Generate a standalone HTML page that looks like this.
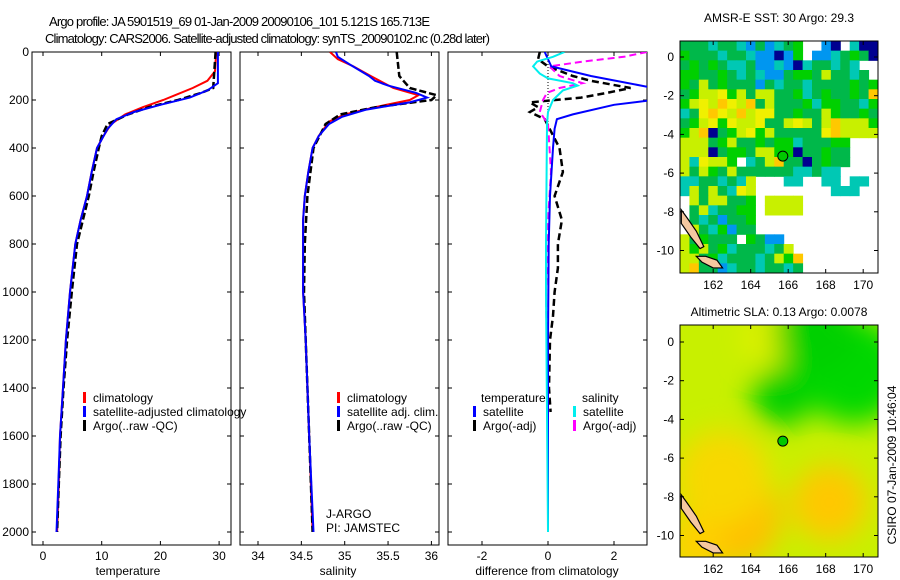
<!DOCTYPE html>
<html><head><meta charset="utf-8"><style>
body{margin:0;background:#fff}
svg{display:block;font-family:"Liberation Sans",sans-serif}
text{font-size:12px;fill:#000}
</style></head><body>
<svg id="c" width="900" height="580" viewBox="0 0 900 580" xmlns="http://www.w3.org/2000/svg">
<text x="49" y="26" font-size="13" textLength="381" style="font-size:13px">Argo profile: JA 5901519_69 01-Jan-2009 20090106_101 5.121S 165.713E</text>
<text x="45" y="43" textLength="445" style="font-size:13px">Climatology: CARS2006. Satellite-adjusted climatology: synTS_20090102.nc (0.28d later)</text>
<g id="p1"></g>
<g id="p2"></g>
<g id="p3"></g>
<g id="m1"></g>
<g id="m2"></g>
<text x="0" y="0" transform="translate(896,465) rotate(-90)" text-anchor="middle">CSIRO 07-Jan-2009 10:46:04</text>
</svg>
<script>
// ---- data ----
const tClimDepth=[0,80,120,150,180,200,230,260,300,350,400,500,600,700,800,1000,1200,1400,1600,1800,2000];
const tClim=[29.5,29.3,28,25.5,22.5,20.5,17,14,11.6,10.3,9.2,8.3,7.5,6.4,5.5,4.6,3.9,3.4,2.9,2.7,2.4];
const tSatDepth=[0,130,160,190,220,250,280,320,400,500,600,700,800,1000,1200,1400,1600,1800,2000];
const tSat=[29.8,29.8,28,25,20,15.5,12.5,11,9.2,8.3,7.5,6.4,5.5,4.6,3.9,3.4,2.9,2.6,2.3];
const tArgoDepth=[0,150,170,200,230,260,300,350,400,500,600,700,800,1000,1200,1400,1600,1800,2000];
const tArgo=[29.4,29,27,23,18,14.5,11,10,9.5,8.6,7.8,6.8,5.8,4.9,4.1,3.5,3.0,2.7,2.4];
const sClimDepth=[0,30,60,100,150,180,200,230,260,290,350,400,500,600,700,1000,1200,1600,2000];
const sClim=[34.83,34.92,35.1,35.3,35.56,35.85,35.75,35.35,35.0,34.82,34.7,34.63,34.58,34.54,34.52,34.52,34.55,34.59,34.63];
const sSatDepth=[0,20,50,100,120,140,170,190,210,240,270,300,350,400,500,600,700,1000,1200,1600,2000];
const sSat=[34.9,34.92,35.05,35.28,35.35,35.5,35.82,35.95,35.75,35.25,34.97,34.82,34.7,34.63,34.58,34.54,34.52,34.52,34.55,34.59,34.64];
const sArgoDepth=[0,100,150,180,200,230,260,300,400,600,800,1000,1200,1600,2000];
const sArgo=[35.6,35.63,35.75,36.06,36.0,35.36,34.95,34.78,34.64,34.57,34.54,34.53,34.55,34.59,34.63];
const dTSatDepth=[0,60,100,150,200,220,260,280,320,400,600,800,1200,2000];
const dTSat=[-0.1,0.1,1.3,3.2,3.2,2.0,0.75,0.27,0.2,0.15,0.06,0.02,0,0];
const dTArgoDepth=[0,30,60,100,120,150,170,190,210,230,250,280,320,400,500,600,700,800,900,1000,1100,1200,1400,1500];
const dTArgo=[-0.25,-0.3,0,0.75,1.3,2.5,1.8,1.0,-0.55,-0.3,-0.55,-0.1,0.05,0.35,0.45,0.2,0.42,0.3,0.3,0.2,0.15,0.06,0.03,0.08];
const dSSatDepth=[0,20,40,60,90,110,130,140,160,200,250,300,800,1000,2000];
const dSSat=[0.5,0.15,-0.33,-0.45,-0.25,0,0.75,0.9,0.45,0.15,0,-0.03,-0.06,-0.06,0];
const dSArgoDepth=[0,20,40,60,100,130,150,170,200,250,300,500,700,1000,1250];
const dSArgo=[3.0,2.3,1.05,0.05,0.35,1.05,0.35,-0.03,-0.15,-0.25,0,0.09,0,-0.06,-0.03];
const depthTicks=[0,200,400,600,800,1000,1200,1400,1600,1800,2000];
const tTicks=[0,10,20,30];
const sTicks=[34,34.5,35,35.5,36];
const dTicks=[-2,0,2];
const lonTicks=[162,164,166,168,170];
const latTicks=[0,-2,-4,-6,-8,-10];
const argoLon=165.713, argoLat=-5.121;
const sstRows=[
"GGGcGGcbGbcGg..bn.cnn",
"gGGGcGGcbbnbg.bbcGgGn",
"GgGgGccGbbcbncGGcGc..",
"ggGGgGcGcbbGggGyGGcG.",
"gGyGgGGGbGcGGcGGGGgGg",
"GgyyYgyGyyGGgcGgGGgGo",
"gyYyoYyoGyGGGgcggGGcg",
"cGYoYyoyYYGGgGGygGGgG",
"GgyYgYyyYGGyYyGyoyyyg",
"gyonGgyYgyGGGGGYoyyyy",
"yyyGgyGGgGggcGGGgg...",
"yyynGggGyyggnGGgGG...",
"ycYyyg.cGyoGGnGgGG...",
"yGygGyGGGGGGccGcc....",
"ccGGcGcy...cc..cc.cc.",
"cyGyGcYy........ccc..",
".yGyyGGg.yyyy........",
".GycGGgg.yyyy........",
".GcGbGGg.............",
".yGcgbGG.............",
"yGgGGG.gGbb..........",
"ygyGgcGGGcGy.........",
"yyGgcGGGcGygo........",
"yoGGbcGGcGGcG.......",
];
const sstColors={g:"#00d000",G:"#00b84a",y:"#c8f000",Y:"#f0f000",o:"#ffc800",c:"#00c8b4",b:"#0096f0",n:"#000090"};
// SLA blobs: lon, lat, radius(deg), color
const slaLon=[163,168.2,165.7,162.5,165,169.5,167.5,161];
const slaLat=[-9,-8.3,-2.8,-7,0.2,-1.5,0.5,-10.5];
const slaR=[2.6,2.0,1.6,2.5,1.4,2.8,2.2,1.5];
const slaCol=["#ffc000","#ffc800","#00d000","#f8d800","#e0f000","#00d800","#00d000","#ffd000"];

const NS="http://www.w3.org/2000/svg";
function mk(parent,tag,attrs,txt){const e=document.createElementNS(NS,tag);for(const k in attrs)e.setAttribute(k,attrs[k]);if(txt!==undefined)e.textContent=txt;parent.appendChild(e);return e;}
const Y0=52, PXD=0.24; // depth to y
const yD=d=>Y0+d*PXD;
const xT=t=>43+5.87*t;
const xS=s=>258+86.7*(s-34);
const xDf=d=>548+33*d;
const FT=52, FB=545;

function frame(g,x0,x1,ticksX,xf,labels,title,tx,cls,leftLabels){
  mk(g,"rect",{x:x0,y:FT,width:x1-x0,height:FB-FT,fill:"none",stroke:"#000","stroke-width":1});
  depthTicks.forEach(d=>{const y=yD(d);
    mk(g,"line",{x1:x0,x2:x0+4,y1:y,y2:y,stroke:"#000"});mk(g,"line",{x1:x1-4,x2:x1,y1:y,y2:y,stroke:"#000"});
    if(leftLabels){const t=mk(g,"text",{x:x0-3,y:y+4,"text-anchor":"end"},String(d));}
  });
  ticksX.forEach(v=>{const x=xf(v);
    mk(g,"line",{x1:x,x2:x,y1:FB,y2:FB-4,stroke:"#000"});mk(g,"line",{x1:x,x2:x,y1:FT,y2:FT+4,stroke:"#000"});
    const t=mk(g,"text",{x:x,y:560,"text-anchor":"middle"},String(v));
  });
  const at=mk(g,"text",{x:tx,y:575,"text-anchor":"middle"},title);
  
}
function clipFor(g,id,x0,x1){const cp=mk(g,"clipPath",{id:id});mk(cp,"rect",{x:x0,y:FT,width:x1-x0,height:FB-FT});}
function line(g,ds,vs,xf,col,w,dash,name,clip){
  const pts=ds.map((d,i)=>xf(vs[i]).toFixed(1)+","+yD(d).toFixed(1)).join(" ");
  const p=mk(g,"polyline",{points:pts,fill:"none",stroke:col,"stroke-width":w,"clip-path":"url(#"+clip+")"});
  if(dash)p.setAttribute("stroke-dasharray",dash);
  
}
function legend(g,x,y,col,label){
  mk(g,"rect",{x:x,y:y-10,width:3,height:11,fill:col});
  const t=mk(g,"text",{x:x+10,y:y},label);
  
}
// panel 1
const p1=document.getElementById("p1");
frame(p1,32,231,tTicks,xT,null,"temperature",128,"",true);clipFor(p1,"c1",32,231);
line(p1,tClimDepth,tClim,xT,"#f00",2,null,"temp-climatology-line","c1");
line(p1,tArgoDepth,tArgo,xT,"#000",2.5,"7,3","temp-argo-line","c1");
line(p1,tSatDepth,tSat,xT,"#00f",2,null,"temp-satellite-line","c1");
legend(p1,83,402,"#f00","climatology");legend(p1,83,416,"#00f","satellite-adjusted climatology");legend(p1,83,430,"#000","Argo(..raw -QC)");
// panel 2
const p2=document.getElementById("p2");
frame(p2,240,439,sTicks,xS,null,"salinity",338,"",false);clipFor(p2,"c2",240,439);
line(p2,sClimDepth,sClim,xS,"#f00",2,null,"sal-climatology-line","c2");
line(p2,sArgoDepth,sArgo,xS,"#000",2.5,"7,3","sal-argo-line","c2");
line(p2,sSatDepth,sSat,xS,"#00f",2,null,"sal-satellite-line","c2");
legend(p2,337,402,"#f00","climatology");legend(p2,337,416,"#00f","satellite adj. clim.");legend(p2,337,430,"#000","Argo(..raw -QC)");
mk(p2,"text",{x:326,y:518},"J-ARGO");mk(p2,"text",{x:326,y:532},"PI: JAMSTEC");
// panel 3
const p3=document.getElementById("p3");
frame(p3,448,647,dTicks,xDf,null,"difference from climatology",547,"",false);clipFor(p3,"c3",448,647);
mk(p3,"line",{x1:548,x2:548,y1:FT,y2:yD(300),stroke:"#000","stroke-dasharray":"1,2"});
line(p3,dTArgoDepth,dTArgo,xDf,"#000",2.5,"7,4","diff-temp-argo-line","c3");
line(p3,dSArgoDepth,dSArgo,xDf,"#f0f",2,"7,4","diff-sal-argo-line","c3");
line(p3,dTSatDepth,dTSat,xDf,"#00f",2,null,"diff-temp-satellite-line","c3");
line(p3,dSSatDepth,dSSat,xDf,"#0ee",2,null,"diff-sal-satellite-line","c3");
mk(p3,"text",{x:481,y:402},"temperature");mk(p3,"text",{x:582,y:402},"salinity");
legend(p3,473,416,"#00f","satellite");legend(p3,473,430,"#000","Argo(-adj)");
legend(p3,573,416,"#0ee","satellite");legend(p3,573,430,"#f0f","Argo(-adj)");

// maps
const MX0=680,MX1=878,LON0=160.23,PXLON=18.75;
const xL=l=>MX0+(l-LON0)*PXLON;
function mapFrame(g,top,lat0y,title,titleY){
  const yL=l=>lat0y-l*19.35;
  mk(g,"rect",{x:MX0,y:top,width:MX1-MX0,height:232,fill:"none",stroke:"#000"});
  lonTicks.forEach(v=>{const x=xL(v);mk(g,"line",{x1:x,x2:x,y1:top+232,y2:top+228,stroke:"#000"});mk(g,"line",{x1:x,x2:x,y1:top,y2:top+4,stroke:"#000"});
    const t=mk(g,"text",{x:x,y:top+248,"text-anchor":"middle"},String(v));});
  latTicks.forEach(v=>{const y=yL(v);mk(g,"line",{x1:MX0,x2:MX0+4,y1:y,y2:y,stroke:"#000"});mk(g,"line",{x1:MX1-4,x2:MX1,y1:y,y2:y,stroke:"#000"});
    const t=mk(g,"text",{x:MX0-6,y:y+4,"text-anchor":"end"},String(v));});
  const tt=mk(g,"text",{x:(MX0+MX1)/2,y:titleY,"text-anchor":"middle"},title);
  // land
  const land=[[160.3,-7.9],[160.6,-8.3],[161.1,-9.0],[161.5,-9.8],[161.3,-9.9],[160.8,-9.3],[160.3,-8.6]];
  const land2=[[161.1,-10.3],[161.6,-10.3],[162.2,-10.5],[162.5,-10.9],[162.0,-10.9],[161.4,-10.6]];
  [land,land2].forEach(L=>{const p=mk(g,"polygon",{points:L.map(q=>xL(q[0])+","+yL(q[1])).join(" "),fill:"#f5c8a0",stroke:"#000","stroke-width":1.2});});
  const c=mk(g,"circle",{cx:xL(argoLon),cy:yL(argoLat),r:5,fill:"#00c800",stroke:"#000"});
  
  return yL;
}
const m1=document.getElementById("m1");
{const top=41,lat0y=57,cellH=232/sstRows.length,cellW=(MX1-MX0)/21;
 sstRows.forEach((row,r)=>{for(let i=0;i<row.length;i++){const k=row[i];if(!sstColors[k])continue;
   const cell=mk(m1,"rect",{x:MX0+i*cellW,y:top+r*cellH,width:cellW+0.5,height:cellH+0.5,fill:sstColors[k]});
   }});
 mapFrame(m1,top,lat0y,"AMSR-E SST: 30 Argo: 29.3",22);}
const m2=document.getElementById("m2");
{const top=325,lat0y=342;const yL=l=>lat0y-l*19.35;
 const defs=mk(m2,"defs",{});const f=mk(defs,"filter",{id:"bl",x:"-50%",y:"-50%",width:"200%",height:"200%"});mk(f,"feGaussianBlur",{stdDeviation:14});
 const cp=mk(defs,"clipPath",{id:"cm2"});mk(cp,"rect",{x:MX0,y:top,width:MX1-MX0,height:232});
 const gg=mk(m2,"g",{"clip-path":"url(#cm2)"});
 mk(gg,"rect",{x:MX0,y:top,width:MX1-MX0,height:232,fill:"#c8f000"});
 const gb=mk(gg,"g",{filter:"url(#bl)"});
 slaLon.forEach((lo,i)=>{const b=mk(gb,"circle",{cx:xL(lo),cy:yL(slaLat[i]),r:slaR[i]*19,fill:slaCol[i]});});
 mapFrame(m2,top,lat0y,"Altimetric SLA: 0.13 Argo: 0.0078",316);}
</script>
</body></html>
